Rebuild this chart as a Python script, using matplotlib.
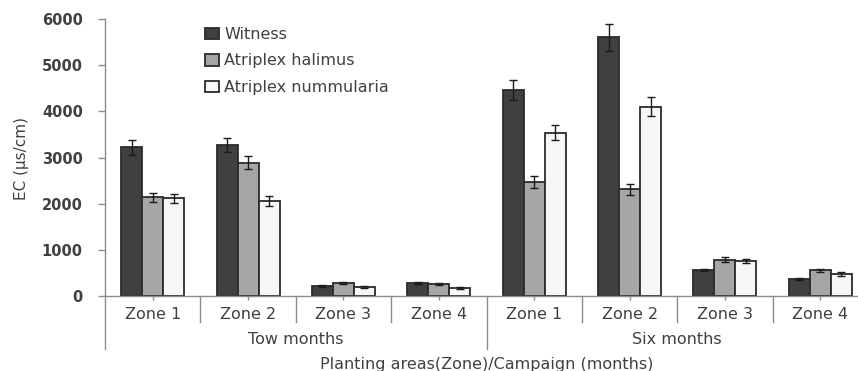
import numpy as np
import matplotlib
matplotlib.use("Agg")
import matplotlib.pyplot as plt
import matplotlib.transforms as mtransforms

zones = ["Zone 1", "Zone 2", "Zone 3", "Zone 4", "Zone 1", "Zone 2", "Zone 3", "Zone 4"]
campaigns = ["Tow months", "Six months"]
series = ["Witness", "Atriplex halimus", "Atriplex nummularia"]

witness = [3220, 3270, 210, 280, 4470, 5600, 560, 370]
halimus = [2140, 2890, 280, 260, 2470, 2310, 790, 560]
nummularia = [2120, 2060, 190, 170, 3540, 4100, 760, 480]

witness_err = [160, 155, 20, 15, 215, 290, 20, 15]
halimus_err = [100, 140, 30, 20, 120, 120, 45, 30]
nummularia_err = [100, 100, 20, 15, 170, 205, 50, 40]

text_col = "#404040"
axis_col = "#8c8c8c"
colors = ["#404040", "#a6a6a6", "#f7f7f7"]

fig = plt.figure(figsize=(8.58, 3.71), dpi=100)
ax = fig.add_axes([105 / 858, 1 - 296 / 371, 763 / 858, 277 / 371])

x = np.arange(len(zones))
w = 0.22
values = [witness, halimus, nummularia]
errors = [witness_err, halimus_err, nummularia_err]
for i, (vals, errs) in enumerate(zip(values, errors)):
    ax.bar(x + (i - 1) * w, vals, w, color=colors[i], edgecolor="#2b2b2b",
           linewidth=1.3, label=series[i], zorder=2)
    ax.errorbar(x + (i - 1) * w, vals, yerr=errs, fmt="none", ecolor="#1a1a1a",
                elinewidth=1, capsize=3, capthick=1, zorder=3)

ax.set_xlim(-0.5, len(zones) - 0.5)
ax.set_ylim(0, 6000)
ax.set_yticks(range(0, 6001, 1000))
ax.tick_params(axis="y", direction="out", length=5, width=1, color=axis_col,
               pad=11, labelsize=10.5, labelcolor=text_col)
for lbl in ax.get_yticklabels():
    lbl.set_fontweight("bold")
ax.set_xticks(x)
ax.set_xticklabels(zones, fontsize=11.5, color=text_col)
ax.tick_params(axis="x", direction="out", length=3, width=1, color=axis_col, pad=5)

for s in ["top", "right"]:
    ax.spines[s].set_visible(False)
for s in ["left", "bottom"]:
    ax.spines[s].set_color(axis_col)
    ax.spines[s].set_linewidth(1)

# group separators below the axis
trans = mtransforms.blended_transform_factory(ax.transData, ax.transAxes)
for b in np.arange(-0.5, len(zones), 1.0):
    depth = -53 / 277 if b in (-0.5, 3.5) else -26 / 277
    ax.plot([b, b], [0, depth], color=axis_col, lw=1, transform=trans, clip_on=False)

for k, name in enumerate(campaigns):
    ax.text(1.5 + 4 * k, -44 / 277, name, transform=trans, ha="center", va="center",
            fontsize=11.5, color=text_col)

ax.text(0.5, -68 / 277, "Planting areas(Zone)/Campaign (months)", transform=ax.transAxes,
        ha="center", va="center", fontsize=11.5, color=text_col)
fig.text(22 / 858, 1 - 158 / 371, "EC (µs/cm)", rotation=90, ha="center", va="center",
         fontsize=11, color=text_col)

ax.legend(loc="upper left", bbox_to_anchor=(205 / 858, 1 - 27 / 371),
          bbox_transform=fig.transFigure, frameon=False, fontsize=11.5,
          handlelength=0.85, handleheight=0.7, handletextpad=0.35,
          labelspacing=0.72, borderpad=0, borderaxespad=0, labelcolor=text_col)

fig.savefig("out.png", dpi=100)
